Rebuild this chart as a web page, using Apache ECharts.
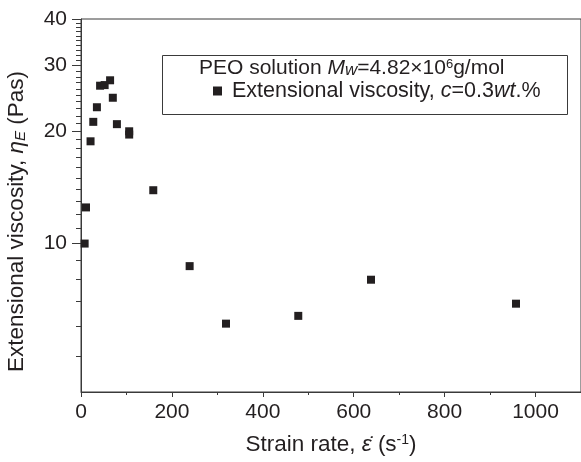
<!DOCTYPE html>
<html>
<head>
<meta charset="utf-8">
<script src="https://cdn.jsdelivr.net/npm/echarts@6/dist/echarts.min.js"></script>
<style>html,body{margin:0;padding:0;background:#fff;}#c{width:581px;height:462px;}</style>
</head>
<body>
<div id="c"></div>
<script>
// Data
var strainRate = [8, 11, 21, 27, 35, 42, 52, 64, 70, 79, 106, 106, 159, 239, 319, 478, 638, 957];
var viscosity = [10.0, 12.5, 18.8, 21.2, 23.2, 26.5, 26.6, 27.4, 24.6, 20.9, 20.0, 19.6, 13.9, 8.7, 6.1, 6.4, 8.0, 6.9];
var xTicks = [0, 200, 400, 600, 800, 1000];
var yMajorTicks = [10, 20, 30, 40];
var yMinorTicks = [5, 6, 7, 8, 9, 11, 12, 13, 14, 15, 16, 17, 18, 19, 21, 22, 23, 24, 25, 26, 27, 28, 29, 31, 32, 33, 34, 35, 36, 37, 38, 39];
var seriesName = 'Extensional viscosity, c=0.3wt.%';

var FONT = 'Liberation Sans';
var FS = 21;
var FT = 22.5;
var TXT = '#231f20';
var AX = '#3a3a3a';

var points = strainRate.map(function (x, i) { return [x, viscosity[i]]; });

var chart = echarts.init(document.getElementById('c'), null, {renderer: 'canvas'});
chart.setOption({
  animation: false,
  backgroundColor: '#fff',
  textStyle: {fontFamily: FONT, color: TXT},
  grid: {left: 81, top: 19, right: 0, bottom: 70, show: true, borderColor: AX, borderWidth: 1,
    containLabel: false, outerBoundsMode: 'none'},
  title: {
    left: 199, top: 58, padding: 0,
    text: 'PEO solution {i|M}{iw|w}=4.82×10{sup|6}g/mol',
    textStyle: {
      fontFamily: FONT, fontSize: FS, fontWeight: 'normal', color: TXT,
      rich: {
        i: {fontFamily: FONT, fontSize: FS, fontStyle: 'italic', color: TXT},
        iw: {fontFamily: FONT, fontSize: 17, fontStyle: 'italic', color: TXT, verticalAlign: 'bottom'},
        sup: {fontFamily: FONT, fontSize: 13, color: TXT, verticalAlign: 'top'}
      }
    }
  },
  legend: {
    left: 213, top: 80,
    itemWidth: 9, itemHeight: 9,
    itemGap: 0,
    padding: 0,
    selectedMode: false,
    data: [{name: seriesName, icon: 'rect'}],
    formatter: function () { return 'Extensional viscosity, {i|c}=0.3{i|wt}.%'; },
    textStyle: {
      fontFamily: FONT, fontSize: 21.5, color: TXT, padding: [0, 0, 0, 5],
      rich: { i: {fontFamily: FONT, fontSize: 21.5, fontStyle: 'italic', color: TXT} }
    }
  },
  graphic: [{
    type: 'rect', z: 100,
    shape: {x: 162.5, y: 55.5, width: 405, height: 59},
    style: {fill: null, stroke: AX, lineWidth: 1}
  }],
  xAxis: {
    type: 'value', min: 0, max: 1100, interval: 200,
    name: 'Strain rate, {i|ε̇} (s{sup|-1})',
    nameLocation: 'middle', nameGap: 41,
    nameTextStyle: {
      fontFamily: FONT, fontSize: FT, color: TXT,
      rich: {
        i: {fontFamily: FONT, fontSize: FT, fontStyle: 'italic', color: TXT},
        sup: {fontFamily: FONT, fontSize: 14, color: TXT, verticalAlign: 'top'}
      }
    },
    axisLine: {lineStyle: {color: AX, width: 1}},
    axisTick: {inside: false, length: 5, lineStyle: {color: AX}},
    minorTick: {show: true, splitNumber: 2, length: 3, lineStyle: {color: AX}},
    axisLabel: {fontFamily: FONT, fontSize: FS, color: TXT, margin: 10,
      customValues: xTicks, formatter: function (v) { return String(v); }},
    splitLine: {show: false}
  },
  yAxis: [{
    type: 'log', logBase: 10, min: 4, max: 40,
    name: 'Extensional viscosity, {i|η}{sub|E} (Pas)',
    nameLocation: 'middle', nameGap: 53,
    nameTextStyle: {
      fontFamily: FONT, fontSize: FT, color: TXT, padding: [0, 32, 0, 0],
      rich: {
        i: {fontFamily: FONT, fontSize: FT, fontStyle: 'italic', color: TXT},
        sub: {fontFamily: FONT, fontSize: 15, fontStyle: 'italic', color: TXT, verticalAlign: 'bottom'}
      }
    },
    axisLine: {show: true, lineStyle: {color: AX, width: 1}},
    axisTick: {show: true, inside: false, length: 9, lineStyle: {color: AX}, customValues: yMajorTicks},
    axisLabel: {fontFamily: FONT, fontSize: FS, color: TXT, margin: 14, customValues: yMajorTicks},
    splitLine: {show: false}
  }, {
    type: 'log', logBase: 10, min: 4, max: 40, position: 'left',
    axisLine: {show: false},
    axisTick: {show: true, inside: false, length: 5, lineStyle: {color: AX}, customValues: yMinorTicks},
    axisLabel: {show: false},
    splitLine: {show: false}
  }],
  series: [{
    name: seriesName,
    type: 'scatter',
    symbol: 'rect',
    symbolSize: 8,
    itemStyle: {color: TXT, opacity: 1},
    data: points
  }]
});
</script>
</body>
</html>
